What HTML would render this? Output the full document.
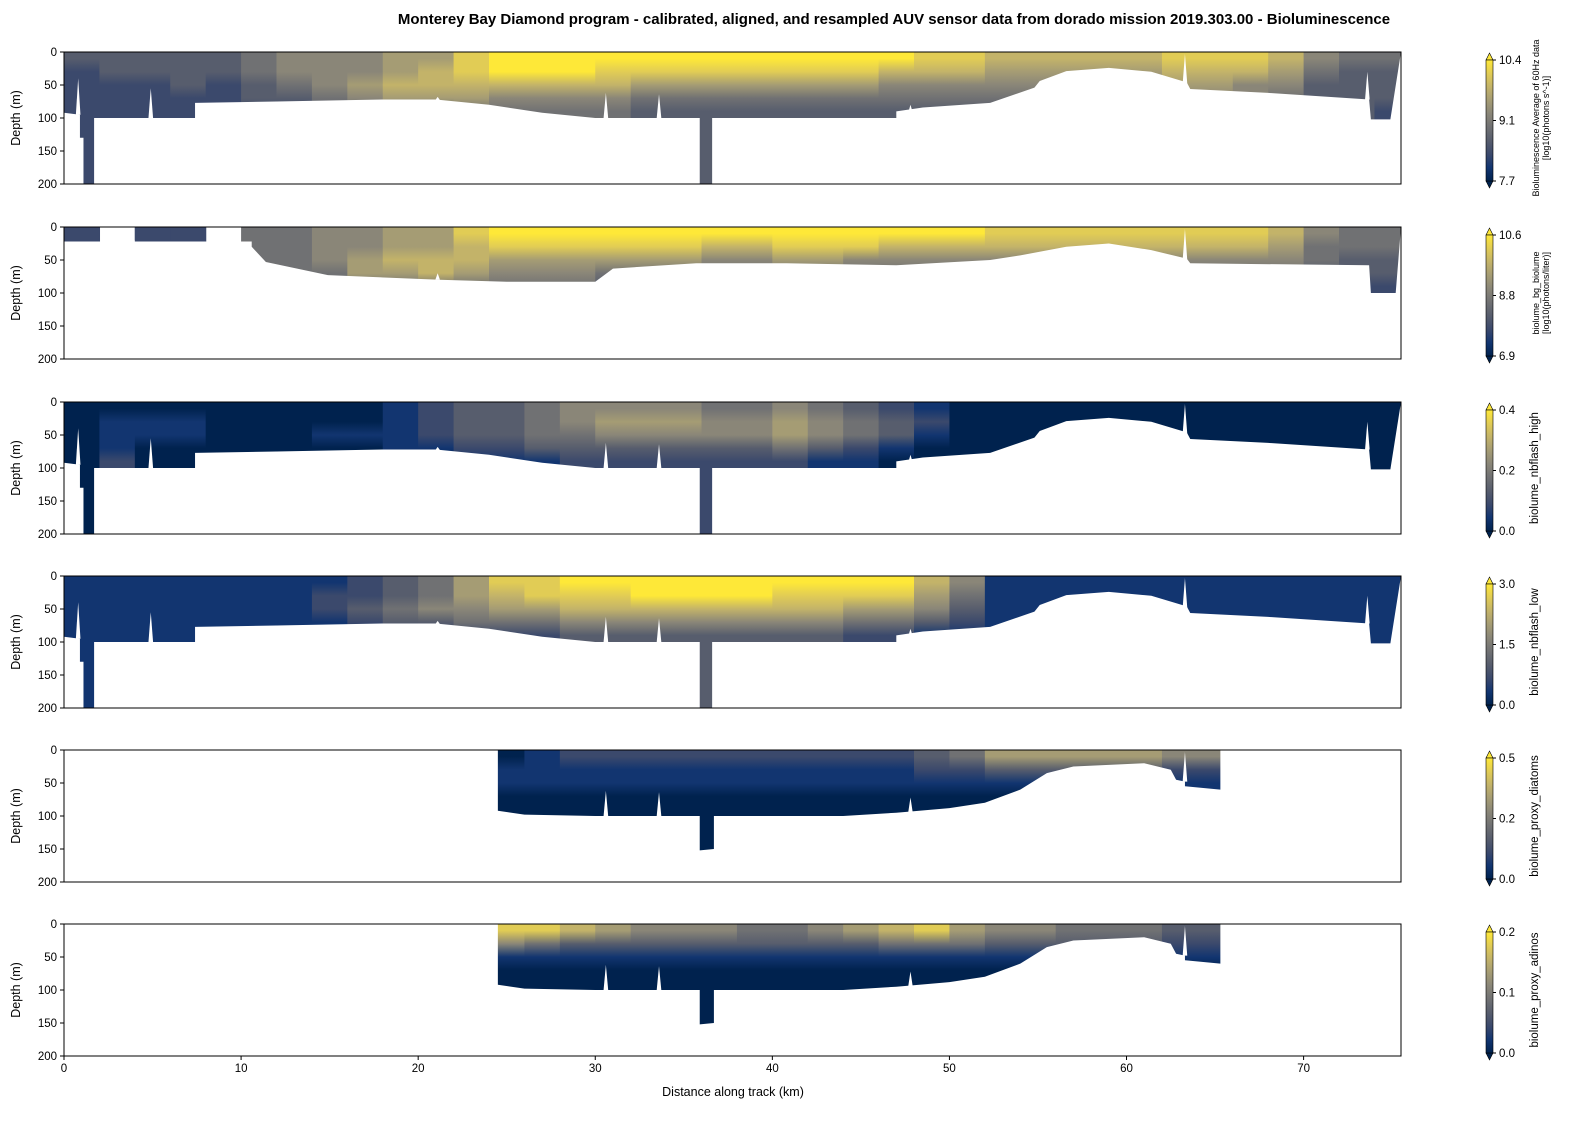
<!DOCTYPE html>
<html><head><meta charset="utf-8"><style>
html,body{margin:0;padding:0;background:#fff;}
svg{display:block;font-family:"Liberation Sans","DejaVu Sans",sans-serif;}
</style></head><body>
<svg id="fig" width="1596" height="1128" viewBox="0 0 1596 1128" xmlns="http://www.w3.org/2000/svg">
<text x="894" y="24" text-anchor="middle" font-size="15" font-weight="bold" fill="#000">Monterey Bay Diamond program - calibrated, aligned, and resampled AUV sensor data from dorado mission 2019.303.00 - Bioluminescence</text>
<text x="733" y="1096" text-anchor="middle" font-size="12.5" fill="#000">Distance along track (km)</text>
</svg>
<script>
// ---- data ----
const cividis = ["#00224e","#123570","#3b496c","#575d6d","#707173","#8a8678","#a59c74","#c3b369","#e1cc55","#fee838"];
const xTicks = [0,10,20,30,40,50,60,70];
const yTicks = [0,50,100,150,200];
const colWidthKm = 2;
const layerDepthM = 20;
const xMaxKm = 75.5;

// each layer: segments for km 0-10 | 10-16 | 16-22 | 22-24 | 24-40 | 40-52 | 52-62 | 62-70 | 70-76 (2 km per char)
const p1Layers = [
 ["33333","455","566","8","99999999","999988","77777","8887","544"],
 ["23333","455","567","8","99988888","888777","66666","7776","433"],
 ["22232","345","677","7","77776666","666555","55555","6655","333"],
 ["22222","334","566","6","55554444","444444","44444","5554","333"],
 ["22222","223","333","4","44443333","333333","33333","3333","332"]];
const p2Layers = [
 ["2-22-","445","566","8","99999999","999999","88888","8887","544"],
 ["-----","445","566","7","88888877","888777","77777","7776","444"],
 ["-----","-45","677","7","66666655","665555","55555","5555","433"],
 ["-----","--4","667","6","55544444","444444","44444","4444","333"],
 ["-----","---","444","4","44433333","333333","33333","3333","222"]];
const p3Layers = [
 ["00000","000","012","3","34555544","543210","00000","0000","000"],
 ["01110","000","012","3","34566655","654320","00000","0000","000"],
 ["01110","001","112","3","34455555","654310","00000","0000","000"],
 ["01000","000","011","2","23333333","432100","00000","0000","000"],
 ["02000","000","000","1","11222222","211000","00000","0000","000"]];
const p4Layers = [
 ["11111","111","234","6","88999999","999975","11111","1111","111"],
 ["11111","112","234","6","78889999","888864","11111","1111","111"],
 ["11111","112","345","5","66777777","776653","11111","1111","111"],
 ["11111","111","233","4","44555555","554432","11111","1111","111"],
 ["11111","111","112","2","22333333","332211","11111","1111","111"]];
const p5Layers = [
 ["-----","---","---","-","01222222","222234","66666","55--","---"],
 ["-----","---","---","-","11111111","111122","33333","22--","---"],
 ["-----","---","---","-","11111111","111111","11111","11--","---"],
 ["-----","---","---","-","00000000","000000","00000","11--","---"],
 ["-----","---","---","-","00000000","000000","00000","00--","---"]];
const p6Layers = [
 ["-----","---","---","-","88765554","456786","55444","33--","---"],
 ["-----","---","---","-","54333333","333444","33333","22--","---"],
 ["-----","---","---","-","11111111","111111","11111","11--","---"],
 ["-----","---","---","-","00000000","000000","00000","00--","---"],
 ["-----","---","---","-","00000000","000000","00000","00--","---"]];

const bottomA = [[0,92],[0.9,95],[0.9,130],[1.1,130],[1.1,200],[1.7,200],[1.7,100],[7.4,100],[7.4,77],[12,75],[18,72],[21,72],[24,80],[27,92],[30,100],[35.9,100],[35.9,200],[36.6,200],[36.6,100],[47,100],[47,90],[48.5,84],[52.3,77],[54.8,54],[55.1,44],[56.6,29],[59,24],[61.4,30],[63.4,46],[63.6,56],[68,62],[73.7,72],[73.8,102],[74.9,102],[75.5,0]];
const bottomB = [[0,22],[10.6,22],[10.6,30],[11.4,53],[14.9,73],[21.2,80],[25,83],[30,83],[31,63],[35.7,55],[40.8,55],[47,58],[52.3,50],[54,43],[56.6,30],[59,25],[61.4,35],[63.4,48],[63.6,55],[73.7,58],[73.8,100],[75.2,100],[75.5,0]];
const bottomC = [[0,0],[24.5,0],[24.5,92],[26,98],[30,100],[35.9,100],[35.9,152],[36.7,150],[36.7,100],[44,100],[47,95],[50,88],[52,80],[54,60],[55.5,35],[57,25],[61,20],[62.5,30],[62.8,45],[63.3,48],[63.3,55],[65.3,60],[65.3,0],[75.5,0]];
const notchesA = [[0.8,40,95],[4.9,55,100],[21.1,68,73],[30.6,62,100],[33.6,64,100],[47.8,80,92],[63.3,3,48],[73.6,30,72]];
const notchesB = [[21.1,70,80],[63.3,3,50]];
const notchesC = [[30.6,62,100],[33.6,64,100],[47.8,72,95],[63.3,3,48]];

const panelTops = [52,227,402,576,750,924];
const cbTickLabels = [["10.4","9.1","7.7"],["10.6","8.8","6.9"],["0.4","0.2","0.0"],["3.0","1.5","0.0"],["0.5","0.2","0.0"],["0.2","0.1","0.0"]];
const cbLabels = [["Bioluminescence Average of 60Hz data","[log10(photons s^-1)]"],["biolume_bg_biolume","[log10(photons/liter)]"],["biolume_nbflash_high"],["biolume_nbflash_low"],["biolume_proxy_diatoms"],["biolume_proxy_adinos"]];
const panelNames = ["bioluminescence-avg","biolume-bg","nbflash-high","nbflash-low","proxy-diatoms","proxy-adinos"];

// ---- layout ----
const svg = document.getElementById('fig');
const NS = 'http://www.w3.org/2000/svg';
const X0 = 64, X1 = 1401, PH = 132;
function X(km){ return X0 + km*(X1-X0)/xMaxKm; }
function mk(tag, attrs, parent){ const e=document.createElementNS(NS,tag); for(const k in attrs) e.setAttribute(k,attrs[k]); (parent||svg).appendChild(e); return e; }

const panels = [
 {layers:p1Layers,bottom:bottomA,notches:notchesA},
 {layers:p2Layers,bottom:bottomB,notches:notchesB},
 {layers:p3Layers,bottom:bottomA,notches:notchesA},
 {layers:p4Layers,bottom:bottomA,notches:notchesA},
 {layers:p5Layers,bottom:bottomC,notches:notchesC},
 {layers:p6Layers,bottom:bottomC,notches:notchesC}];

const defs = mk('defs',{});
const grad = mk('linearGradient',{id:'cbgrad',x1:'0',y1:'1',x2:'0',y2:'0'},defs);
cividis.forEach((c,i)=>mk('stop',{offset:(i/9).toFixed(3),'stop-color':c},grad));

panels.forEach((p,pi)=>{
  const top = panelTops[pi];
  const Y = m => top + m*PH/200;
  const layers = p.layers.map(a=>a.join(''));
  const g = mk('g',{});
  
  
  const cp = mk('clipPath',{id:'clip'+pi},defs);
  mk('rect',{x:X0,y:top,width:X1-X0,height:PH},cp);
  const hg = mk('g',{'clip-path':'url(#clip'+pi+')'},g);
  
  
  const ncol = layers[0].length;
  for(let c=0;c<ncol;c++){
    const k0=c*colWidthKm, k1=Math.min(xMaxKm,(c+1)*colWidthKm);
    // top layer cells that are missing are skipped; column gradient starts at first valid layer
    let f = -1;
    for(let l=0;l<5;l++){ if(layers[l][c]!=='-'){ f=l; break; } }
    // isolated valid cells above a gap
    for(let l=0;l<f;l++){}
    if(f<0){
      // check for sparse cells
      continue;
    }
    // draw any sparse cells above gaps
    const gid = 'g'+pi+'_'+c;
    const lg = mk('linearGradient',{id:gid,gradientUnits:'userSpaceOnUse',x1:0,x2:0,y1:Y(f*layerDepthM),y2:Y(100)},defs);
    for(let l=f;l<5;l++){
      const ch = layers[l][c];
      if(ch==='-') continue;
      const off = ((l+0.5)-f)/(5-f);
      mk('stop',{offset:off.toFixed(3),'stop-color':cividis[+ch]},lg);
    }
    const r = mk('rect',{x:X(k0),y:Y(f*layerDepthM),width:X(k1)-X(k0)+0.6,height:Y(100)-Y(f*layerDepthM)+0.5,fill:'url(#'+gid+')'},hg);
    
    
    const d = mk('rect',{x:X(k0),y:Y(100),width:X(k1)-X(k0)+0.6,height:Y(200)-Y(100),fill:cividis[+layers[4][c]==layers[4][c]?+layers[4][c]:0]},hg);
    
    
  }
  // mask below bottom
  const pts = p.bottom.map(q=>X(q[0])+','+Y(q[1]));
  pts.push(X(xMaxKm)+','+Y(201), X(0)+','+Y(201));
  const mask = mk('polygon',{points:pts.join(' '),fill:'#fff'},hg);
  
  
  p.notches.forEach(n=>{
    const t = mk('polygon',{points:[X(n[0]-0.13)+','+Y(n[2]),X(n[0]+0.13)+','+Y(n[2]),X(n[0])+','+Y(n[1])].join(' '),fill:'#fff'},hg);
    
    
  });
  // frame
  const fr = mk('rect',{x:X0,y:top,width:X1-X0,height:PH,fill:'none',stroke:'#000','stroke-width':1},g);
  
  
  // y ticks
  yTicks.forEach(v=>{
    mk('line',{x1:X0-4,x2:X0,y1:Y(v),y2:Y(v),stroke:'#000'},g);
    const t = mk('text',{x:X0-7,y:Y(v)+4,'text-anchor':'end','font-size':11.5,fill:'#000'},g);
    t.textContent = v;
    
    
  });
  const yl = mk('text',{x:20,y:top+PH/2,'text-anchor':'middle','font-size':12.5,fill:'#000',transform:'rotate(-90 20 '+(top+PH/2)+')'},g);
  yl.textContent = 'Depth (m)';
  
  
  if(pi===5){
    xTicks.forEach(v=>{
      mk('line',{x1:X(v),x2:X(v),y1:top+PH,y2:top+PH+4,stroke:'#000'},g);
      const t = mk('text',{x:X(v),y:top+PH+16,'text-anchor':'middle','font-size':11.5,fill:'#000'},g);
      t.textContent = v;
      
      
    });
  }
  // colorbar
  const cb = mk('g',{},g);
  
  
  const bx=1486, bw=7, b0=top+8, b1=top+PH-3;
  mk('polygon',{points:`${bx},${b0} ${bx+bw/2},${top+1} ${bx+bw},${b0}`,fill:cividis[9],stroke:'#000','stroke-width':0.6},cb);
  mk('polygon',{points:`${bx},${b1} ${bx+bw/2},${b1+7} ${bx+bw},${b1}`,fill:cividis[0],stroke:'#000','stroke-width':0.6},cb);
  mk('rect',{x:bx,y:b0,width:bw,height:b1-b0,fill:'url(#cbgrad)',stroke:'#000','stroke-width':0.6},cb);
  cbTickLabels[pi].forEach((lab,i)=>{
    const ty = b0 + i*(b1-b0)/2;
    mk('line',{x1:bx+bw,x2:bx+bw+3,y1:ty,y2:ty,stroke:'#000'},cb);
    const t = mk('text',{x:bx+bw+6,y:ty+4,'font-size':11.5,fill:'#000'},cb);
    t.textContent = lab;
    
    
  });
  const lines = cbLabels[pi];
  const cy = top+PH/2;
  lines.forEach((s,i)=>{
    const fs = lines.length>1 ? 9 : 11.5;
    const lx = lines.length>1 ? 1539+i*10 : 1538;
    const t = mk('text',{x:lx,y:cy,'text-anchor':'middle','font-size':fs,fill:'#000',transform:`rotate(-90 ${lx} ${cy})`},cb);
    t.textContent = s;
    
    
  });
});

// sparse top cells for panel 2 (above gaps)
(function(){
  const top = panelTops[1];
  const Y = m => top + m*PH/200;
  const L0 = p2Layers[0].join('');
  const hg = document.querySelector('[clip-path="url(#clip1)"]');
  for(let c=0;c<5;c++){
    const ch = L0[c];
    if(ch==='-') continue;
    const r = mk('rect',{x:X(c*colWidthKm),y:Y(0),width:X(colWidthKm)-X(0),height:Y(20)-Y(0),fill:cividis[+ch]},hg);
    
    
  }
})();
</script>
</body></html>
